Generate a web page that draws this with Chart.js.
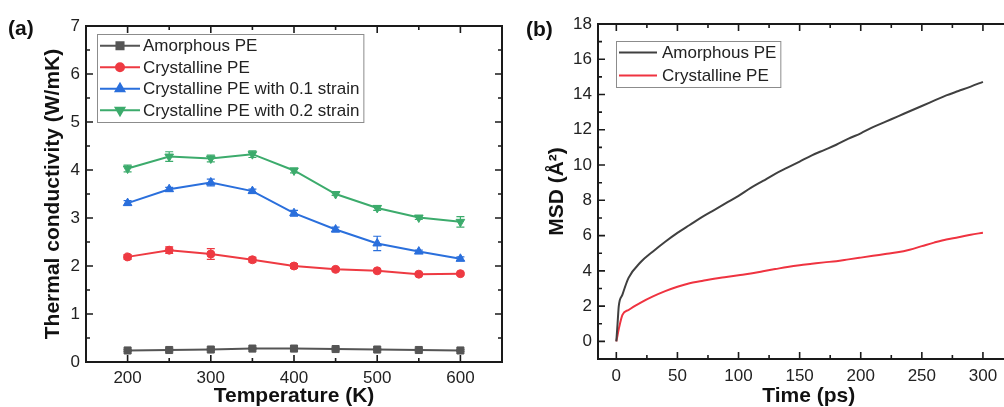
<!DOCTYPE html>
<html>
<head>
<meta charset="utf-8">
<script src="https://cdn.jsdelivr.net/npm/chart.js@4.4.1/dist/chart.umd.min.js"></script>
<style>
  html, body { margin: 0; padding: 0; background: #fff; overflow: hidden; width: 1004px; height: 407px; }
  .panel { position: absolute; top: 0; }
  .tag { position: absolute; font: bold 21px "Liberation Sans", Arial, sans-serif; color: #111; line-height: 21px; }
</style>
</head>
<body>
<div class="panel" style="left:0"><canvas id="condChart" width="510" height="407"></canvas></div>
<div class="panel" style="left:500px"><canvas id="msdChart" width="540" height="407"></canvas></div>
<div class="tag" style="left:8px;top:17px">(a)</div>
<div class="tag" style="left:526px;top:18px">(b)</div>
<script>
// (a) thermal conductivity vs temperature
var temps = [200, 250, 300, 350, 400, 450, 500, 550, 600];
var kAmorphous = [0.24, 0.25, 0.26, 0.28, 0.28, 0.27, 0.26, 0.25, 0.24];
var kCrystal = [2.19, 2.33, 2.25, 2.13, 2.00, 1.93, 1.90, 1.83, 1.84];
var kStrain01 = [3.31, 3.60, 3.74, 3.56, 3.10, 2.76, 2.47, 2.30, 2.15];
var kStrain02 = [4.03, 4.28, 4.24, 4.33, 3.99, 3.50, 3.21, 3.01, 2.92];
var errAmorphous = [0.02, 0.02, 0.02, 0.02, 0.02, 0.02, 0.02, 0.02, 0.02];
var errCrystal = [0.05, 0.07, 0.11, 0.05, 0.05, 0.03, 0.03, 0.03, 0.03];
var errStrain01 = [0.05, 0.04, 0.07, 0.04, 0.06, 0.05, 0.15, 0.03, 0.04];
var errStrain02 = [0.07, 0.10, 0.07, 0.07, 0.05, 0.03, 0.05, 0.04, 0.11];
var tempTicks = [200, 300, 400, 500, 600];
var condTicks = [0, 1, 2, 3, 4, 5, 6, 7];

// (b) mean square displacement vs time
var msdTime = [0, 1, 2, 5, 10, 20, 30, 40, 50, 60, 70, 80, 90, 100, 110, 120, 130, 140, 150,
               160, 170, 180, 190, 200, 210, 220, 230, 240, 250, 260, 270, 280, 290, 300];
var msdAmorphous = [0, 1.0, 2.0, 2.65, 3.6, 4.5, 5.1, 5.65, 6.15, 6.6, 7.05, 7.45, 7.85, 8.25, 8.7, 9.1, 9.5, 9.85, 10.2,
                    10.55, 10.85, 11.15, 11.5, 11.8, 12.15, 12.45, 12.75, 13.05, 13.35, 13.65, 13.95, 14.2, 14.45, 14.72];
var msdCrystal = [0, 0.35, 0.7, 1.5, 1.78, 2.2, 2.55, 2.85, 3.1, 3.3, 3.42, 3.55, 3.65, 3.75, 3.85, 3.98, 4.1, 4.22, 4.32,
                  4.4, 4.48, 4.55, 4.65, 4.75, 4.85, 4.95, 5.05, 5.2, 5.4, 5.6, 5.78, 5.9, 6.05, 6.16];
var timeTicks = [0, 50, 100, 150, 200, 250, 300];
var msdTicks = [0, 2, 4, 6, 8, 10, 12, 14, 16, 18];

Chart.defaults.font.family = '"Liberation Sans", Arial, sans-serif';
Chart.defaults.color = '#222';

function pts(xs, ys) {
  return xs.map(function (x, i) { return {x: x, y: ys[i]}; });
}

// box frame with inward major/minor ticks on all four sides
var framePlugin = {
  id: 'frame',
  afterDatasetsDraw: function (chart, args, opts) {
    var ctx = chart.ctx, a = chart.chartArea;
    var xs = chart.scales.x, ys = chart.scales.y;
    ctx.save();
    ctx.strokeStyle = '#1a1a1a';
    ctx.lineWidth = 1.6;
    function marks(scale, step) {
      var out = [];
      var major = scale.ticks.map(function (t) { return t.value; });
      major.forEach(function (v) { out.push({v: v, len: 7}); });
      var start = major[0];
      while (start - step >= scale.min) start -= step;
      for (var v = start; v <= scale.max + 1e-9; v += step) {
        var isMajor = major.some(function (m) { return Math.abs(m - v) < 1e-6; });
        if (!isMajor) out.push({v: v, len: 4});
      }
      return out.filter(function (m) { return m.v > scale.min + 1e-6 && m.v < scale.max - 1e-6; });
    }
    ctx.beginPath();
    marks(xs, opts.xMinor).forEach(function (m) {
      var px = xs.getPixelForValue(m.v);
      ctx.moveTo(px, a.bottom); ctx.lineTo(px, a.bottom - m.len);
      ctx.moveTo(px, a.top); ctx.lineTo(px, a.top + m.len);
    });
    marks(ys, opts.yMinor).forEach(function (m) {
      var py = ys.getPixelForValue(m.v);
      ctx.moveTo(a.left, py); ctx.lineTo(a.left + m.len, py);
      ctx.moveTo(a.right, py); ctx.lineTo(a.right - m.len, py);
    });
    ctx.stroke();
    ctx.lineWidth = 2;
    ctx.strokeRect(a.left, a.top, a.right - a.left, a.bottom - a.top);
    ctx.restore();
  }
};

var errorBars = {
  id: 'errorBars',
  afterDatasetsDraw: function (chart) {
    var ctx = chart.ctx, ys = chart.scales.y;
    chart.data.datasets.forEach(function (d, i) {
      if (!d.errors) return;
      var meta = chart.getDatasetMeta(i);
      ctx.save();
      ctx.strokeStyle = d.borderColor;
      ctx.lineWidth = 1.2;
      meta.data.forEach(function (pt, j) {
        var v = d.data[j].y, e = d.errors[j];
        var top = ys.getPixelForValue(v + e), bot = ys.getPixelForValue(v - e);
        ctx.beginPath();
        ctx.moveTo(pt.x, top); ctx.lineTo(pt.x, bot);
        ctx.moveTo(pt.x - 4, top); ctx.lineTo(pt.x + 4, top);
        ctx.moveTo(pt.x - 4, bot); ctx.lineTo(pt.x + 4, bot);
        ctx.stroke();
      });
      ctx.restore();
    });
  }
};

// legend drawn inside the plot, line sample with marker like Origin
var boxLegend = {
  id: 'boxLegend',
  afterDraw: function (chart, args, opts) {
    var ctx = chart.ctx, a = chart.chartArea;
    var items = chart.data.datasets;
    ctx.save();
    ctx.font = '17px "Liberation Sans", Arial, sans-serif';
    var textW = 0;
    items.forEach(function (d) { textW = Math.max(textW, ctx.measureText(d.label).width); });
    var x0 = a.left + opts.dx, y0 = a.top + opts.dy;
    var w = opts.sampleStart + opts.sampleLen + opts.gap + textW + 4;
    var h = items.length * opts.rowH + opts.padV * 2;
    ctx.fillStyle = '#fff';
    ctx.fillRect(x0, y0, w, h);
    ctx.strokeStyle = '#8c8c8c';
    ctx.lineWidth = 1;
    ctx.strokeRect(x0 + 0.5, y0 + 0.5, w, h);
    items.forEach(function (d, i) {
      var cy = y0 + opts.padV + opts.rowH * (i + 0.5);
      var sx = x0 + opts.sampleStart;
      ctx.strokeStyle = d.borderColor;
      ctx.lineWidth = 2;
      ctx.beginPath();
      ctx.moveTo(sx, cy); ctx.lineTo(sx + opts.sampleLen, cy);
      ctx.stroke();
      if (d.pointRadius > 0) {
        ctx.fillStyle = d.borderColor;
        Chart.helpers.drawPoint(ctx, {pointStyle: d.pointStyle, radius: d.pointRadius, rotation: d.pointRotation || 0, borderWidth: 1},
          sx + opts.sampleLen / 2, cy);
      }
      ctx.fillStyle = '#222';
      ctx.textBaseline = 'middle';
      ctx.fillText(d.label, sx + opts.sampleLen + opts.gap, cy + 1);
    });
    ctx.restore();
  }
};

function series(label, color, xs, ys, style, radius, rot, errs) {
  return {
    label: label,
    data: pts(xs, ys),
    borderColor: color,
    backgroundColor: color,
    borderWidth: 2,
    pointStyle: style,
    pointRadius: radius,
    pointRotation: rot,
    pointBackgroundColor: color,
    pointBorderColor: color,
    pointBorderWidth: 1,
    tension: 0,
    errors: errs
  };
}

var condChart = document.getElementById('condChart');
var condChartConfig = {
  type: 'line',
  data: {
    datasets: [
      series('Amorphous PE', '#555555', temps, kAmorphous, 'rect', 5, 0, errAmorphous),
      series('Crystalline PE', '#ee3a42', temps, kCrystal, 'circle', 4, 0, errCrystal),
      series('Crystalline PE with 0.1 strain', '#2a6fdc', temps, kStrain01, 'triangle', 5, 0, errStrain01),
      series('Crystalline PE with 0.2 strain', '#3cab6c', temps, kStrain02, 'triangle', 5, 180, errStrain02)
    ]
  },
  options: {
    responsive: false,
    animation: false,
    layout: { padding: { left: 0, top: 26, right: 8, bottom: 0 } },
    plugins: {
      legend: { display: false },
      tooltip: { enabled: false },
      frame: { xMinor: 50, yMinor: 0.5 },
      boxLegend: { dx: 11, dy: 8, rowH: 21.5, padV: 1, sampleStart: 3, sampleLen: 40, gap: 3 }
    },
    scales: {
      x: {
        type: 'linear', min: 150, max: 650,
        afterBuildTicks: function (s) { s.ticks = tempTicks.map(function (v) { return {value: v}; }); },
        afterFit: function (s) { s.height = 45; },
        grid: { display: false, drawTicks: false },
        border: { display: false },
        ticks: { padding: 6, font: { size: 17 } },
        title: { display: true, text: 'Temperature (K)', color: '#111', padding: { top: 0, bottom: 0.5 },
                 font: { size: 21, weight: 'bold', lineHeight: 1 } }
      },
      y: {
        type: 'linear', min: 0, max: 7,
        afterBuildTicks: function (s) { s.ticks = condTicks.map(function (v) { return {value: v}; }); },
        afterFit: function (s) { s.width = 86; },
        grid: { display: false, drawTicks: false },
        border: { display: false },
        ticks: { padding: 6, font: { size: 17 } },
        title: { display: true, text: 'Thermal conductivity (W/mK)', color: '#111', padding: { top: 43, bottom: 0 },
                 font: { size: 21, weight: 'bold', lineHeight: 1 } }
      }
    }
  },
  plugins: [errorBars, framePlugin, boxLegend]
};
var condChartObj = new Chart(condChart, condChartConfig);

var msdChart = document.getElementById('msdChart');
var msdAmorphousSet = series('Amorphous PE', '#404040', msdTime, msdAmorphous, 'circle', 0, 0, null);
var msdCrystalSet = series('Crystalline PE', '#ef3340', msdTime, msdCrystal, 'circle', 0, 0, null);
msdAmorphousSet.cubicInterpolationMode = 'monotone';
msdCrystalSet.cubicInterpolationMode = 'monotone';
var msdChartConfig = {
  type: 'line',
  data: { datasets: [msdAmorphousSet, msdCrystalSet] },
  options: {
    responsive: false,
    animation: false,
    layout: { padding: { left: 0, top: 24, right: 20.4, bottom: 0 } },
    plugins: {
      legend: { display: false },
      tooltip: { enabled: false },
      frame: { xMinor: 25, yMinor: 1 },
      boxLegend: { dx: 18, dy: 17, rowH: 23, padV: 0, sampleStart: 3, sampleLen: 38, gap: 5 }
    },
    scales: {
      x: {
        type: 'linear', min: -15, max: 330,
        afterBuildTicks: function (s) { s.ticks = timeTicks.map(function (v) { return {value: v}; }); },
        afterFit: function (s) { s.height = 48; },
        grid: { display: false, drawTicks: false },
        border: { display: false },
        ticks: { padding: 7, font: { size: 17 } },
        title: { display: true, text: 'Time (ps)', color: '#111', padding: { top: 0, bottom: 0.5 },
                 font: { size: 21, weight: 'bold', lineHeight: 1 } }
      },
      y: {
        type: 'linear', min: -1, max: 18,
        afterBuildTicks: function (s) { s.ticks = msdTicks.map(function (v) { return {value: v}; }); },
        afterFit: function (s) { s.width = 98; },
        grid: { display: false, drawTicks: false },
        border: { display: false },
        ticks: { padding: 6, font: { size: 17 } },
        title: { display: true, text: 'MSD (Å²)', color: '#111', padding: { top: 46.5, bottom: 0 },
                 font: { size: 21, weight: 'bold', lineHeight: 1 } }
      }
    }
  },
  plugins: [framePlugin, boxLegend]
};
var msdChartObj = new Chart(msdChart, msdChartConfig);
</script>
</body>
</html>
